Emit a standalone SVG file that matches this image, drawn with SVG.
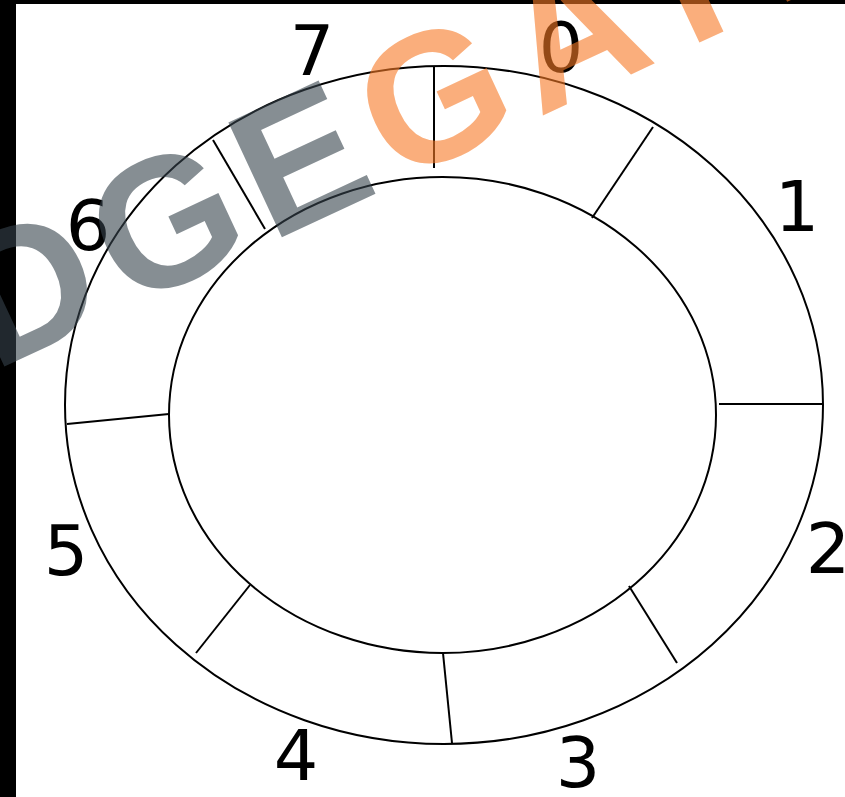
<svg xmlns="http://www.w3.org/2000/svg" width="845" height="797" viewBox="0 0 845 797">
<style>
.ring{fill:none;stroke:#000;stroke-width:2}
.div{stroke:#000;stroke-width:2;fill:none}
.lbl{font-family:"DejaVu Sans",sans-serif;font-size:70px;fill:#000;text-anchor:middle}
.wm{font-family:"Liberation Sans",Arial,sans-serif;font-weight:bold;font-size:184px;letter-spacing:15px;opacity:0.6}
</style>
<rect x="0" y="0" width="845" height="797" fill="#fff"/>
<g id="ring">
<ellipse class="ring" cx="444" cy="405" rx="379" ry="339"/>
<ellipse class="ring" cx="442.5" cy="415" rx="273.5" ry="238"/>
</g>
<g id="connectors">
<line class="div" x1="434" y1="66" x2="434" y2="168"/>
<line class="div" x1="653" y1="127" x2="592" y2="218"/>
<line class="div" x1="719" y1="404" x2="823" y2="404"/>
<line class="div" x1="629" y1="586" x2="677" y2="663"/>
<line class="div" x1="443" y1="653" x2="452" y2="743"/>
<line class="div" x1="250" y1="585" x2="196" y2="653"/>
<line class="div" x1="67" y1="424" x2="169" y2="414"/>
<line class="div" x1="213" y1="140" x2="265" y2="229"/>
</g>
<g id="label-0"><text class="lbl" x="561" y="72">0</text></g>
<g id="label-1"><text class="lbl" x="797" y="231">1</text></g>
<g id="label-2"><text class="lbl" x="828" y="573">2</text></g>
<g id="label-3"><text class="lbl" x="578" y="787">3</text></g>
<g id="label-4"><text class="lbl" x="296" y="780">4</text></g>
<g id="label-5"><text class="lbl" x="66" y="575">5</text></g>
<g id="label-6"><text class="lbl" x="88" y="250">6</text></g>
<g id="label-7"><text class="lbl" x="312" y="75">7</text></g>
<rect x="0" y="0" width="16" height="797" fill="#000"/>
<rect x="0" y="0" width="845" height="4" fill="#000"/>
<g id="watermark">
<text class="wm" x="0" y="0" transform="translate(-131.5,430) rotate(-25)"><tspan fill="#37444D">EDGE</tspan><tspan fill="#F77A26">GATE</tspan></text>
</g>
</svg>
